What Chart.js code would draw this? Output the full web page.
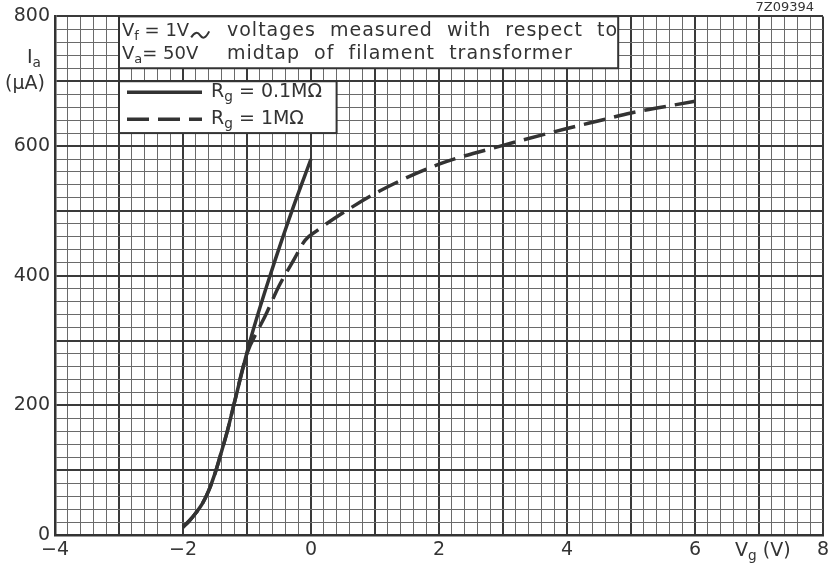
<!DOCTYPE html>
<html>
<head>
<meta charset="utf-8">
<script src="https://cdn.jsdelivr.net/npm/chart.js@4/dist/chart.umd.min.js"></script>
<style>
  html, body { margin: 0; padding: 0; background: #fff; }
  #wrap { width: 834px; height: 573px; }
</style>
</head>
<body>
<div id="wrap"><canvas id="chart" width="834" height="573"></canvas></div>
<script>
// anode current vs grid voltage
const vgSolid = [-2, -1.9, -1.8, -1.7, -1.6, -1.5, -1.4, -1.3, -1.22, -0.95, -0.64, -0.28, 0];
const iaSolid = [12, 22, 34, 48, 68, 95, 128, 163, 195, 300, 400, 505, 580];

const vgDashed = [-2, -1.9, -1.8, -1.7, -1.6, -1.5, -1.4, -1.3, -1.22, -1.0, -0.83, -0.72, -0.5, -0.26, -0.09, 0.1, 0.5, 1.08, 2.0, 3.0, 4.0, 4.5, 5.0, 6.0];
const iaDashed = [12, 22, 34, 48, 68, 95, 128, 163, 195, 280, 316, 337, 384, 426, 455, 470, 497, 531, 572, 601, 627, 639, 651, 669];

const xTickLabels = [-4, -2, 0, 2, 4, 6, 8];
const yTickLabels = [0, 200, 400, 600, 800];

const ink = '#333';
const font = '"DejaVu Sans", sans-serif';

function pts(xs, ys) {
  return xs.map((x, i) => ({ x: x, y: ys[i] }));
}

function near(v, list) {
  return list.some(t => Math.abs(v - t) < 1e-6);
}

// subscripted text helper: parts = [[text, isSub], ...]
function subText(ctx, parts, x, y, size) {
  let cx = x;
  parts.forEach(p => {
    const s = p[1] ? size * 0.72 : size;
    ctx.font = s + 'px ' + font;
    ctx.fillText(p[0], cx, p[1] ? y + size * 0.3 : y);
    cx += ctx.measureText(p[0]).width;
  });
  return cx;
}

const boxesPlugin = {
  id: 'boxes',
  beforeDatasetsDraw(chart) {
    const ctx = chart.ctx;
    const xs = chart.scales.x, ys = chart.scales.y;
    const box = (x0, x1, y0, y1) => {
      const l = xs.getPixelForValue(x0), r = xs.getPixelForValue(x1);
      const t = ys.getPixelForValue(y1), b = ys.getPixelForValue(y0);
      ctx.fillStyle = '#fff';
      ctx.fillRect(l, t, r - l, b - t);
      ctx.strokeStyle = ink;
      ctx.lineWidth = 2;
      ctx.strokeRect(l, t, r - l, b - t);
      return { l, r, t, b };
    };
    ctx.save();
    const a = box(-3, 4.8, 720, 800);
    ctx.fillStyle = ink;
    ctx.textBaseline = 'middle';
    ctx.textAlign = 'left';
    const fs = 18;
    const end1 = subText(ctx, [['V', false], ['f', true], [' = 1V', false]], a.l + 3, a.t + 15, fs);
    // the little AC tilde
    ctx.beginPath();
    ctx.lineWidth = 2;
    ctx.moveTo(end1 + 2, a.t + 21);
    ctx.quadraticCurveTo(end1 + 7, a.t + 13, end1 + 11, a.t + 19);
    ctx.quadraticCurveTo(end1 + 15, a.t + 25, end1 + 20, a.t + 15);
    ctx.stroke();
    subText(ctx, [['V', false], ['a', true], ['= 50V', false]], a.l + 3, a.t + 38, fs);
    ctx.font = '19px ' + font;
    ctx.letterSpacing = '1px';
    ctx.fillText('voltages  measured  with  respect  to', a.l + 108, a.t + 15);
    ctx.fillText('midtap  of  filament  transformer', a.l + 108, a.t + 38);
    ctx.letterSpacing = '0px';

    const g = box(-3, 0.4, 620, 700);
    const rows = [{ y: g.t + 11, dash: [], name: '0.1M\u03A9' }, { y: g.t + 38, dash: [22, 9], name: '1M\u03A9' }];
    rows.forEach(rw => {
      ctx.beginPath();
      ctx.setLineDash(rw.dash);
      ctx.lineWidth = 3.5;
      ctx.moveTo(g.l + 8, rw.y);
      ctx.lineTo(g.l + 83, rw.y);
      ctx.stroke();
      ctx.setLineDash([]);
      ctx.fillStyle = ink;
      subText(ctx, [['R', false], ['g', true], [' = ' + rw.name, false]], g.l + 92, rw.y, 19);
    });
    ctx.restore();
  },
  afterDraw(chart) {
    const ctx = chart.ctx;
    const xs = chart.scales.x;
    ctx.save();
    ctx.fillStyle = ink;
    ctx.textBaseline = 'middle';
    ctx.textAlign = 'left';
    // axis titles
    const vx = xs.getPixelForValue(7) - 24;
    subText(ctx, [['V', false], ['g', true], [' (V)', false]], vx, 551, 19);
    subText(ctx, [['I', false], ['a', true]], 27, 58, 19);
    ctx.font = '19px ' + font;
    ctx.fillText('(\u00B5A)', 5, 84);
    ctx.font = '13px ' + font;
    ctx.textAlign = 'right';
    ctx.fillText('7Z09394', 814, 8);
    ctx.restore();
  }
};

const gridWidth = (ctx, major) => {
  const v = ctx.tick ? ctx.tick.value : 0;
  return Math.abs(v / major - Math.round(v / major)) < 1e-6 ? 2 : 1;
};
const gridColor = (ctx, major) => {
  const v = ctx.tick ? ctx.tick.value : 0;
  return Math.abs(v / major - Math.round(v / major)) < 1e-6 ? '#3a3a3a' : '#6a6a6a';
};

new Chart(document.getElementById('chart'), {
  type: 'line',
  data: {
    datasets: [
      {
        label: 'Rg = 0.1M\u03A9',
        data: pts(vgSolid, iaSolid),
        borderColor: ink,
        borderWidth: 3.5,
        pointRadius: 0,
        cubicInterpolationMode: 'monotone',
        fill: false
      },
      {
        label: 'Rg = 1M\u03A9',
        data: pts(vgDashed, iaDashed),
        borderColor: ink,
        borderWidth: 3.5,
        borderDash: [22, 9],
        pointRadius: 0,
        cubicInterpolationMode: 'monotone',
        fill: false
      }
    ]
  },
  options: {
    responsive: false,
    animation: false,
    layout: { padding: { top: 16, right: 11, left: 0, bottom: 0 } },
    plugins: {
      legend: { display: false },
      tooltip: { enabled: false }
    },
    scales: {
      x: {
        type: 'linear',
        min: -4,
        max: 8,
        afterFit: s => { s.height = 38; },
        afterBuildTicks: s => {
          const t = [];
          for (let i = 0; i <= 60; i++) t.push({ value: Math.round((-4 + i * 0.2) * 10) / 10 });
          s.ticks = t;
        },
        ticks: {
          autoSkip: false,
          maxRotation: 0,
          padding: 4,
          color: ink,
          font: { family: font, size: 19 },
          callback: v => near(v, xTickLabels) ? String(v).replace('-', '\u2212') : ''
        },
        grid: {
          drawTicks: false,
          lineWidth: c => gridWidth(c, 1),
          color: c => gridColor(c, 1)
        },
        border: { color: ink, width: 2.5 }
      },
      y: {
        min: 0,
        max: 800,
        afterFit: s => { s.width = 55; },
        afterBuildTicks: s => {
          const t = [];
          for (let i = 0; i <= 40; i++) t.push({ value: i * 20 });
          s.ticks = t;
        },
        ticks: {
          autoSkip: false,
          padding: 5,
          color: ink,
          font: { family: font, size: 19 },
          callback: v => near(v, yTickLabels) ? String(v) : ''
        },
        grid: {
          drawTicks: false,
          lineWidth: c => gridWidth(c, 100),
          color: c => gridColor(c, 100)
        },
        border: { color: ink, width: 2.5 }
      }
    }
  },
  plugins: [boxesPlugin]
});
</script>
</body>
</html>
